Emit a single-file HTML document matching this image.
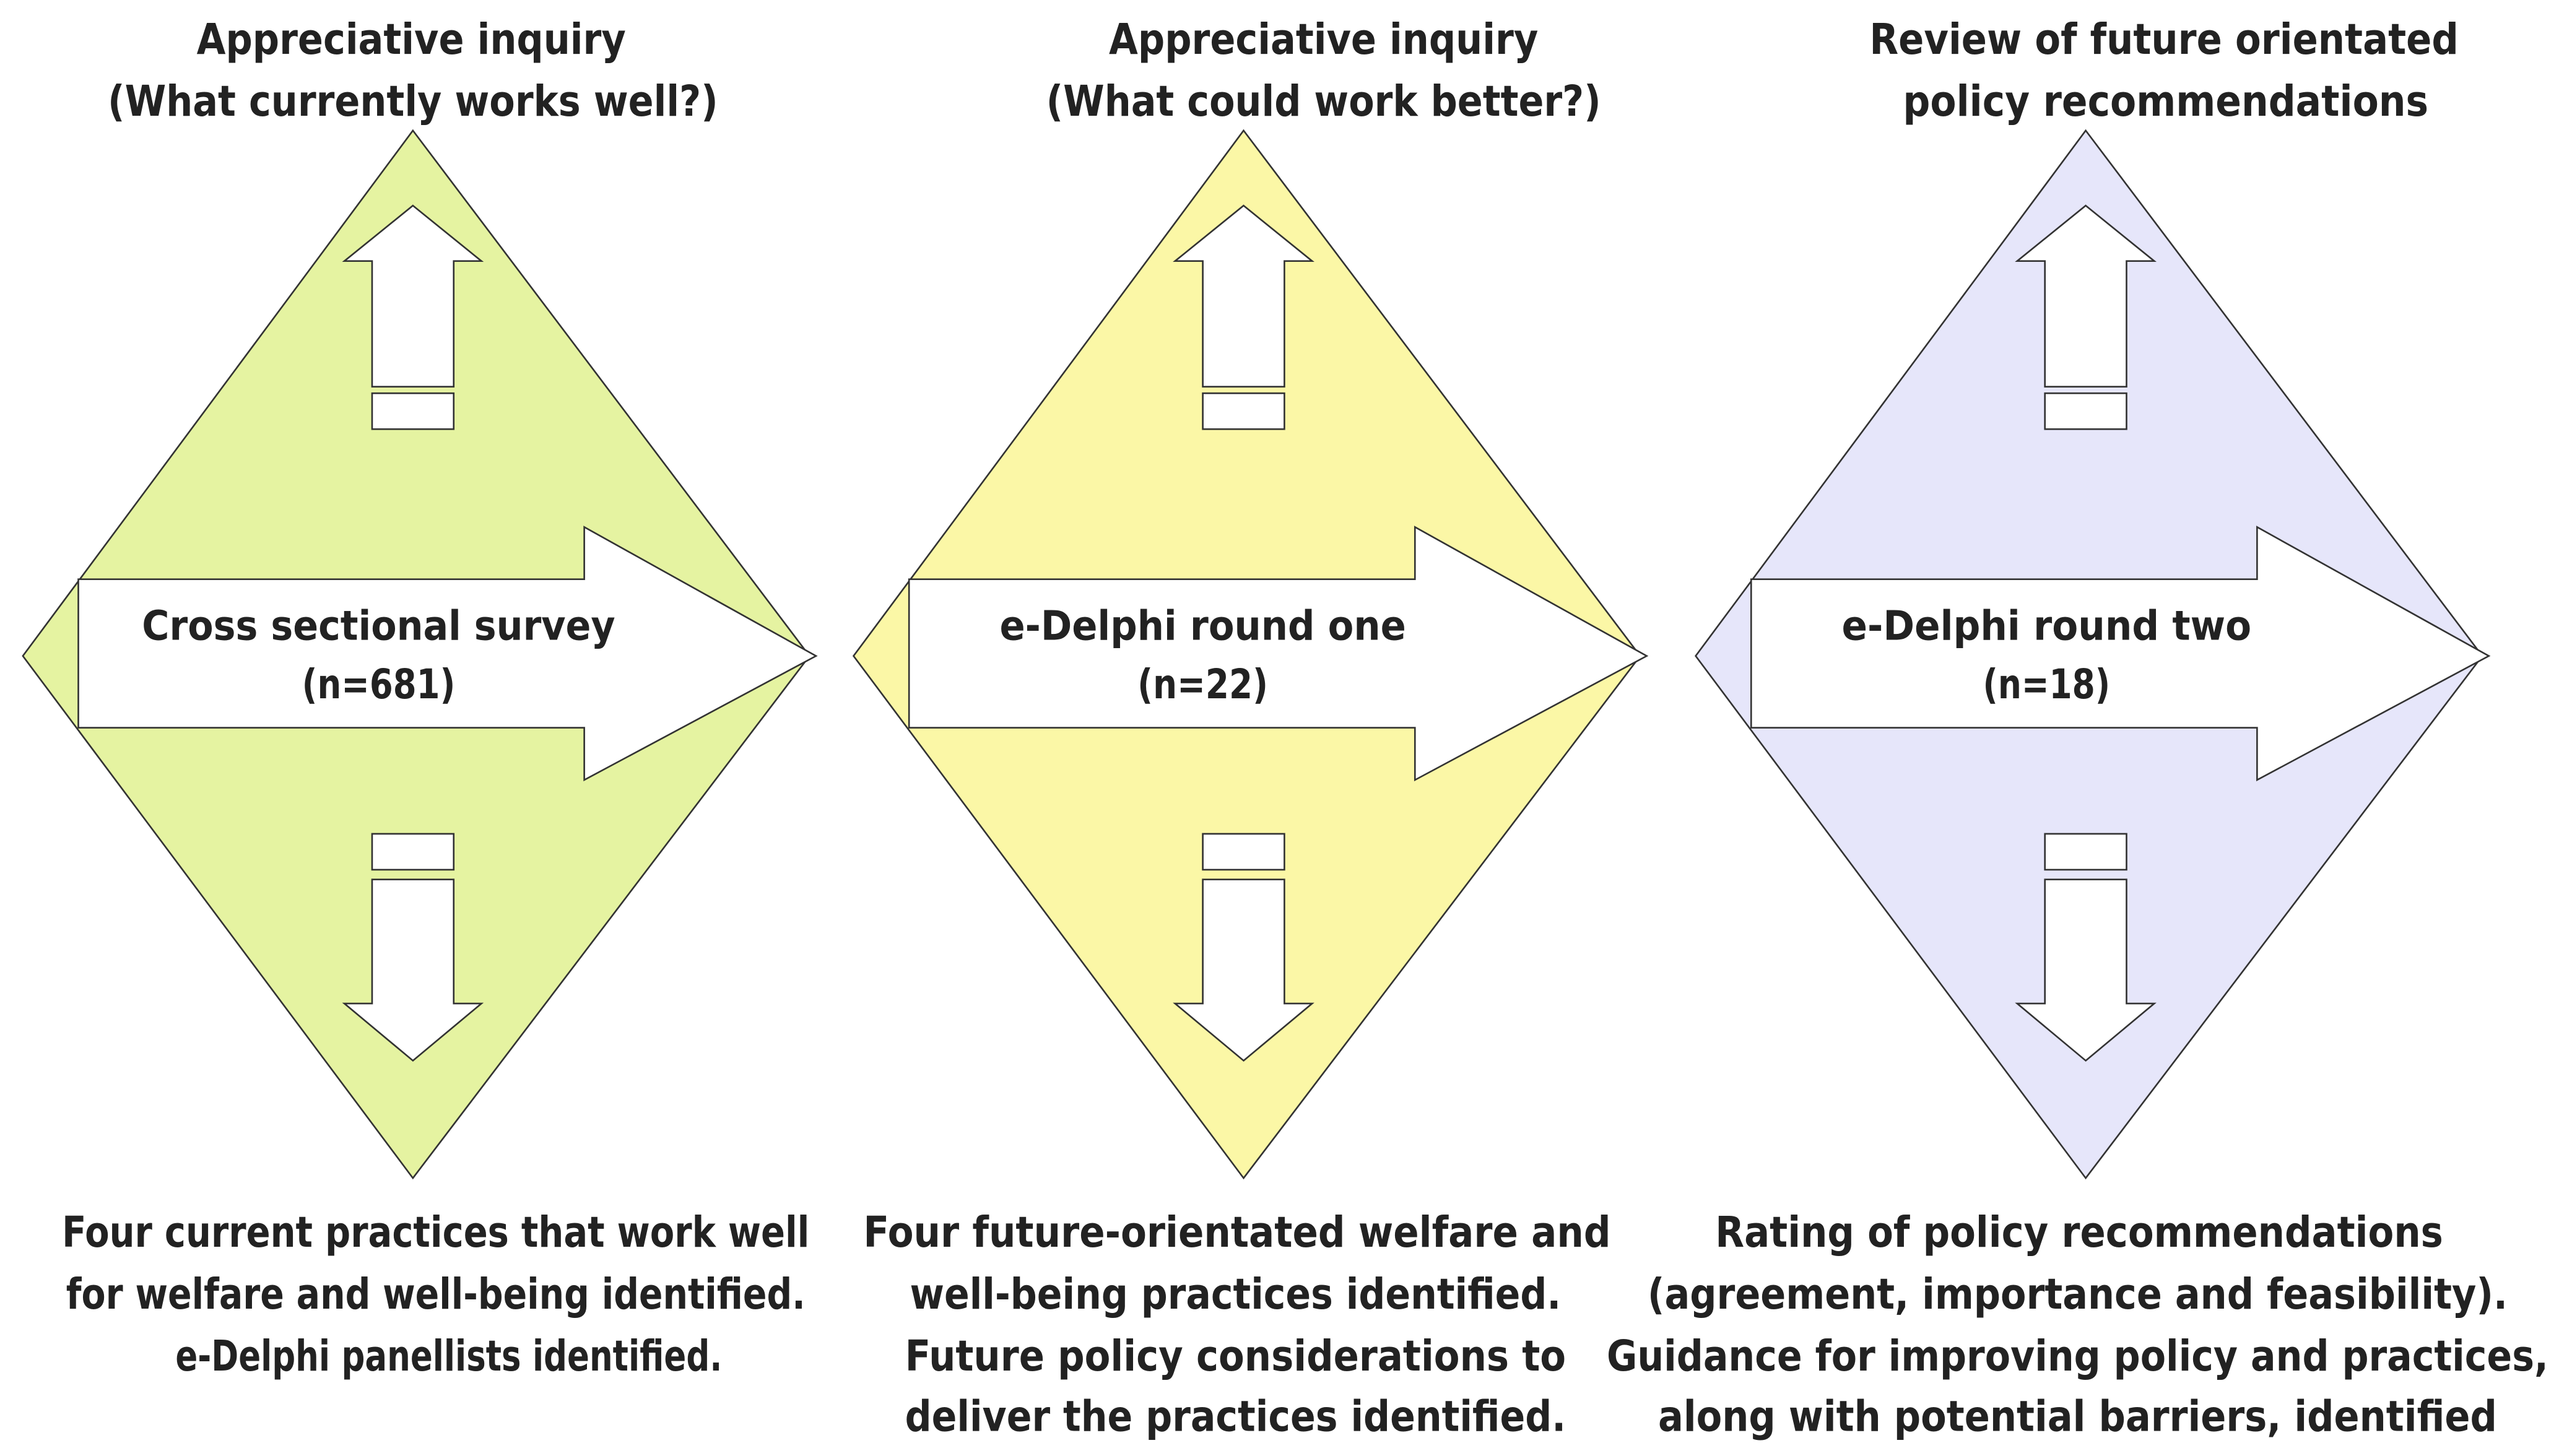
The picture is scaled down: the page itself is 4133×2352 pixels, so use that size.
<!DOCTYPE html>
<html><head><meta charset="utf-8"><style>
html,body{margin:0;padding:0;background:#fff;}
svg{display:block;}
text{font-family:"DejaVu Sans","Liberation Sans",sans-serif;font-weight:bold;fill:#222;text-anchor:middle;}
</style></head><body>
<svg width="4133" height="2352" viewBox="0 0 1568 892.3" preserveAspectRatio="none" xmlns="http://www.w3.org/2000/svg">
<defs>
<g id="d">
  <path d="M0,-322 L243,0 L0,320 L-239,0 Z" stroke="#333" stroke-width="1"/>
  <path d="M-205,-47 L105,-47 L105,-79 L247,0 L105,76 L105,44 L-205,44 Z" fill="#fff" stroke="#333" stroke-width="1"/>
  <path d="M0,-276 L42,-242 L25,-242 L25,-165 L-25,-165 L-25,-242 L-42,-242 Z" fill="#fff" stroke="#333" stroke-width="1"/>
  <rect x="-25" y="-161" width="50" height="22" fill="#fff" stroke="#333" stroke-width="1"/>
  <rect x="-25" y="109" width="50" height="22" fill="#fff" stroke="#333" stroke-width="1"/>
  <path d="M0,248 L42,213 L25,213 L25,137 L-25,137 L-25,213 L-42,213 Z" fill="#fff" stroke="#333" stroke-width="1"/>
</g>
</defs>
<g transform="translate(253,402)" fill="#e5f3a1"><use href="#d"/></g>
<g transform="translate(762,402)" fill="#fbf7a6"><use href="#d"/></g>
<g transform="translate(1278,402)" fill="#e6e6fa"><use href="#d"/></g>

<g font-size="26">
<text x="252" y="33" textLength="263" lengthAdjust="spacingAndGlyphs">Appreciative inquiry</text>
<text x="253" y="71" textLength="374" lengthAdjust="spacingAndGlyphs">(What currently works well?)</text>
<text x="811" y="33" textLength="263" lengthAdjust="spacingAndGlyphs">Appreciative inquiry</text>
<text x="811" y="71" textLength="340" lengthAdjust="spacingAndGlyphs">(What could work better?)</text>
<text x="1326" y="33" textLength="361" lengthAdjust="spacingAndGlyphs">Review of future orientated</text>
<text x="1327" y="71" textLength="322" lengthAdjust="spacingAndGlyphs">policy recommendations</text>

<text x="267" y="764" textLength="458" lengthAdjust="spacingAndGlyphs">Four current practices that work well</text>
<text x="267" y="802" textLength="453" lengthAdjust="spacingAndGlyphs">for welfare and well-being identified.</text>
<text x="275" y="840" textLength="335" lengthAdjust="spacingAndGlyphs">e-Delphi panellists identified.</text>

<text x="758" y="764" textLength="458" lengthAdjust="spacingAndGlyphs">Four future-orientated welfare and</text>
<text x="757" y="802" textLength="399" lengthAdjust="spacingAndGlyphs">well-being practices identified.</text>
<text x="757" y="840" textLength="405" lengthAdjust="spacingAndGlyphs">Future policy considerations to</text>
<text x="757" y="877" textLength="405" lengthAdjust="spacingAndGlyphs">deliver the practices identified.</text>

<text x="1274" y="764" textLength="446" lengthAdjust="spacingAndGlyphs">Rating of policy recommendations</text>
<text x="1273" y="802" textLength="527" lengthAdjust="spacingAndGlyphs">(agreement, importance and feasibility).</text>
<text x="1273" y="840" textLength="577" lengthAdjust="spacingAndGlyphs">Guidance for improving policy and practices,</text>
<text x="1273" y="877" textLength="514" lengthAdjust="spacingAndGlyphs">along with potential barriers, identified</text>
</g>
<g font-size="25">
<text x="232" y="392" textLength="290" lengthAdjust="spacingAndGlyphs">Cross sectional survey</text>
<text x="232" y="428" textLength="94" lengthAdjust="spacingAndGlyphs">(n=681)</text>
<text x="737" y="392" textLength="249" lengthAdjust="spacingAndGlyphs">e-Delphi round one</text>
<text x="737" y="428" textLength="80" lengthAdjust="spacingAndGlyphs">(n=22)</text>
<text x="1254" y="392" textLength="251" lengthAdjust="spacingAndGlyphs">e-Delphi round two</text>
<text x="1254" y="428" textLength="78" lengthAdjust="spacingAndGlyphs">(n=18)</text>
</g>
</svg>
</body></html>
